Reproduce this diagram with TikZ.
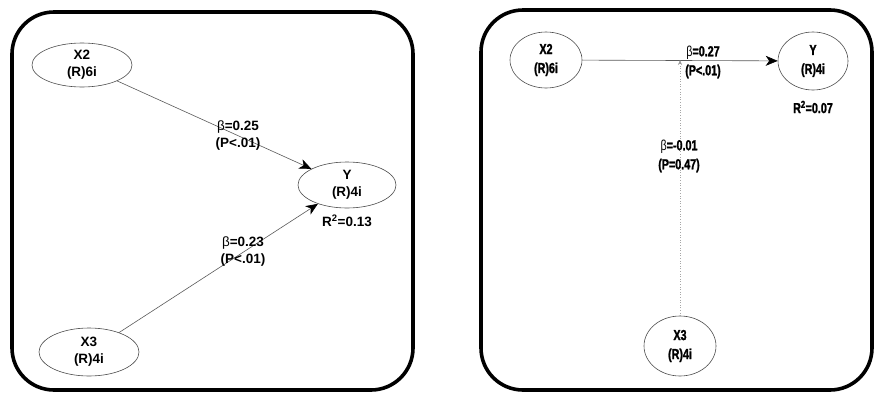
\documentclass[tikz,border=0pt]{standalone}
\usepackage{fontspec}
\setmainfont{Liberation Sans}
\newfontfamily\narrowbold[FakeStretch=0.74,FakeBold=1.5]{Liberation Sans Bold}
\newfontfamily\narrowreg[FakeStretch=0.74]{Liberation Sans}
\usetikzlibrary{arrows.meta,shapes.geometric}
\begin{document}
\begin{tikzpicture}[x=1pt,y=-1pt,
  frame/.style={draw=black,line width=3.6pt,rounded corners=42pt},
  latent/.style={draw=black!70,line width=0.6pt,ellipse,inner sep=0pt,align=center},
  ltxt/.style={font=\bfseries\fontsize{13.5}{17}\selectfont,align=center,inner sep=0pt},
  rtxt/.style={font=\narrowbold\fontsize{14.5}{19}\selectfont,align=center,inner sep=0pt},
  conn/.style={draw=black!65,line width=0.6pt,-{Stealth[length=12pt,width=10pt,inset=3.5pt,black]}},
  weak/.style={draw=black!35,line width=0.6pt,dotted,-{Stealth[length=5pt,width=4pt,black!40]}}
]
\useasboundingbox (0,0) rectangle (876,394);
% left panel
\node[frame,minimum width=401pt,minimum height=378pt] (lframe) at (212.5,201) {};
\node[latent,minimum width=100pt,minimum height=44pt,ltxt] (lx2) at (82,65) {X2\\(R)6i};
\node[latent,minimum width=98pt,minimum height=46pt,ltxt] (ly) at (347,185) {Y\\(R)4i};
\node[latent,minimum width=100pt,minimum height=48pt,ltxt] (lx3) at (89,352) {X3\\(R)4i};
\draw[conn] (lx2) -- (ly);
\draw[conn] (lx3) -- (ly);
\node[ltxt] (lb1) at (238,136) {\mdseries β\bfseries=0.25\\(P<.01)};
\node[ltxt] (lb2) at (243,252) {\mdseries β\bfseries=0.23\\(P<.01)};
\node[ltxt] (lr2) at (347,221) {R\textsuperscript{2}=0.13};
% right panel
\node[frame,minimum width=391pt,minimum height=380pt] (rframe) at (676.5,200) {};
\node[latent,minimum width=72pt,minimum height=56pt,rtxt] (rx2) at (546,60) {X2\\(R)6i};
\node[latent,minimum width=70pt,minimum height=58pt,rtxt] (ry) at (813,61) {Y\\(R)4i};
\node[latent,minimum width=72pt,minimum height=60pt,rtxt] (rx3) at (680,346) {X3\\(R)4i};
\coordinate (rj) at (680,60);
\draw[conn] (rx2) -- (ry);
\draw[weak] (rx3) -- (rj);
\node[rtxt] (rb1) at (703,62) {{\narrowreg β}=0.27\\(P<.01)};
\node[rtxt] (rb2) at (679,156) {{\narrowreg β}=-0.01\\(P=0.47)};
\node[rtxt] (rr2) at (813,107) {R\textsuperscript{2}=0.07};
\end{tikzpicture}
\end{document}
